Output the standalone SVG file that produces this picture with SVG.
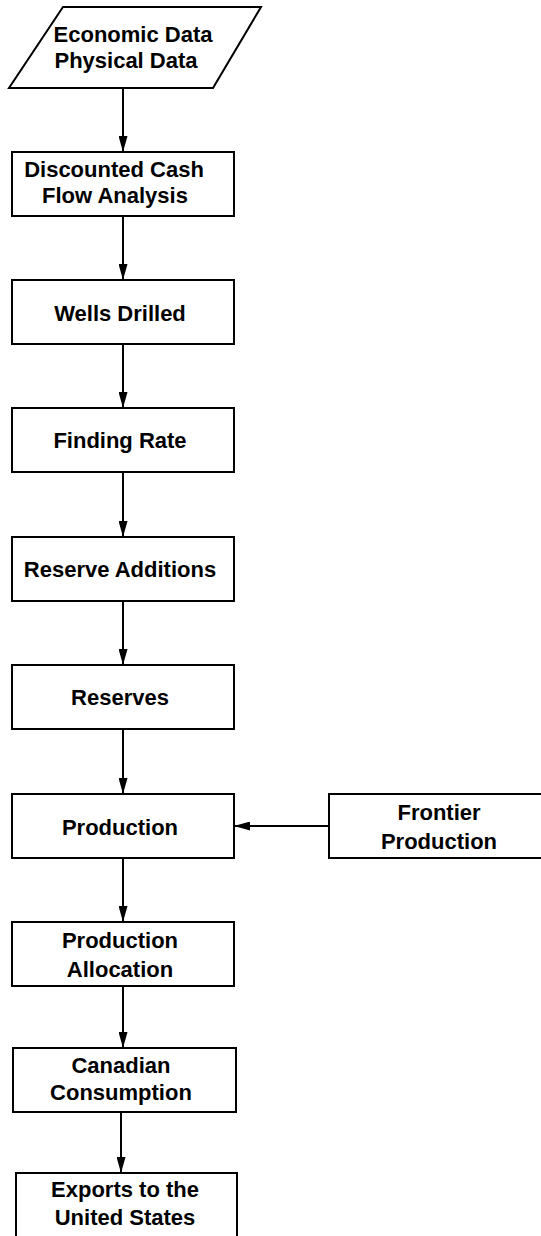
<svg xmlns="http://www.w3.org/2000/svg" width="541" height="1236" viewBox="0 0 541 1236">
  <style>
    .box { fill: #ffffff; stroke: #000000; stroke-width: 2; }
    .lbl { font-family: "Liberation Sans", Arial, sans-serif; font-weight: bold; font-size: 22px; fill: #000000; text-anchor: middle; }
    .edge { stroke: #000000; stroke-width: 2; fill: none; marker-end: url(#head); }
  </style>
  <defs>
    <marker id="head" markerWidth="16" markerHeight="9" refX="16" refY="4.5" orient="auto" markerUnits="userSpaceOnUse">
      <path d="M0,0 L16,4.5 L0,9 Z" fill="#000000"/>
    </marker>
  </defs>
  <rect width="541" height="1236" fill="#ffffff"/>

  <g id="connectors">
    <line class="edge" x1="123" y1="88" x2="123" y2="152"/>
    <line class="edge" x1="123" y1="216" x2="123" y2="280"/>
    <line class="edge" x1="123" y1="344" x2="123" y2="408"/>
    <line class="edge" x1="123" y1="472" x2="123" y2="537"/>
    <line class="edge" x1="123" y1="601" x2="123" y2="665"/>
    <line class="edge" x1="123" y1="729" x2="123" y2="794"/>
    <line class="edge" x1="329" y1="826" x2="234" y2="826"/>
    <line class="edge" x1="123" y1="858" x2="123" y2="922"/>
    <line class="edge" x1="123" y1="986" x2="123" y2="1048"/>
    <line class="edge" x1="121" y1="1112" x2="121" y2="1173"/>
  </g>

  <g id="economic-physical-data">
    <polygon class="box" points="63,7 261,7 213,88 9,88"/>
    <text class="lbl" x="133" y="42">Economic Data</text>
    <text class="lbl" x="126" y="68">Physical Data</text>
  </g>

  <g id="discounted-cash-flow">
    <rect class="box" x="12" y="152" width="222" height="64"/>
    <text class="lbl" x="114" y="177">Discounted Cash</text>
    <text class="lbl" x="115" y="203">Flow Analysis</text>
  </g>

  <g id="wells-drilled">
    <rect class="box" x="12" y="280" width="222" height="64"/>
    <text class="lbl" x="120" y="321">Wells Drilled</text>
  </g>

  <g id="finding-rate">
    <rect class="box" x="12" y="408" width="222" height="64"/>
    <text class="lbl" x="120" y="448">Finding Rate</text>
  </g>

  <g id="reserve-additions">
    <rect class="box" x="12" y="537" width="222" height="64"/>
    <text class="lbl" x="120" y="577">Reserve Additions</text>
  </g>

  <g id="reserves">
    <rect class="box" x="12" y="665" width="222" height="64"/>
    <text class="lbl" x="120" y="705">Reserves</text>
  </g>

  <g id="production">
    <rect class="box" x="12" y="794" width="222" height="64"/>
    <text class="lbl" x="120" y="835">Production</text>
  </g>

  <g id="frontier-production">
    <rect class="box" x="329" y="794" width="224" height="64"/>
    <text class="lbl" x="439" y="820">Frontier</text>
    <text class="lbl" x="439" y="849">Production</text>
  </g>

  <g id="production-allocation">
    <rect class="box" x="12" y="922" width="222" height="64"/>
    <text class="lbl" x="120" y="948">Production</text>
    <text class="lbl" x="120" y="977">Allocation</text>
  </g>

  <g id="canadian-consumption">
    <rect class="box" x="13" y="1048" width="223" height="64"/>
    <text class="lbl" x="121" y="1073">Canadian</text>
    <text class="lbl" x="121" y="1100">Consumption</text>
  </g>

  <g id="exports-us">
    <rect class="box" x="16" y="1173" width="221" height="70"/>
    <text class="lbl" x="125" y="1197">Exports to the</text>
    <text class="lbl" x="125" y="1225">United States</text>
  </g>
</svg>
